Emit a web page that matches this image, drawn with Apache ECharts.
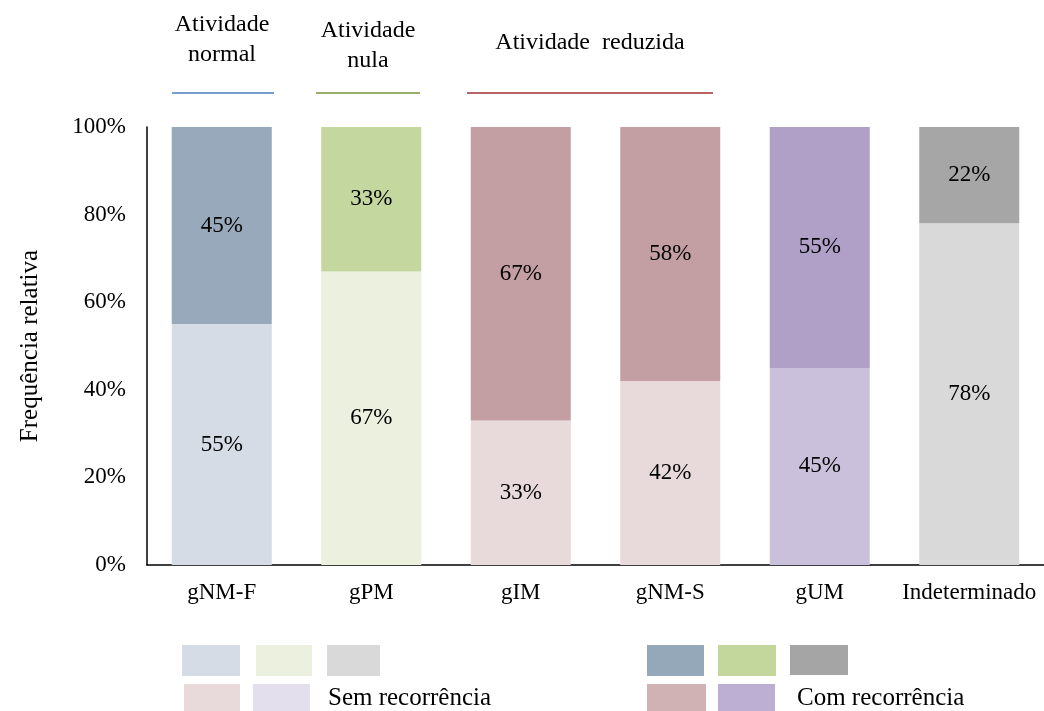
<!DOCTYPE html>
<html>
<head>
<meta charset="utf-8">
<script src="https://cdn.jsdelivr.net/npm/echarts@6/dist/echarts.min.js"></script>
<style>
  html, body { margin: 0; padding: 0; background: #fff; }
  #chart { width: 1044px; height: 711px; }
</style>
</head>
<body>
<div id="chart"></div>
<script>
// dados
var categories = ['gNM-F', 'gPM', 'gIM', 'gNM-S', 'gUM', 'Indeterminado'];
var semRecorrencia = [55, 67, 33, 42, 45, 78];
var comRecorrencia = [45, 33, 67, 58, 55, 22];
var yTicks = ['0%', '20%', '40%', '60%', '80%', '100%'];

// cores por barra
var semColors = ['#D6DCE5', '#EBF0DF', '#E8DADB', '#E8DADB', '#CBC0DB', '#D9D9D9'];
var comColors = ['#97A9BA', '#C4D79E', '#C39EA3', '#C39EA3', '#B0A0C8', '#A6A6A6'];

var font = 'Liberation Serif, Times New Roman, serif';

function items(values, colors) {
  var out = [];
  for (let i = 0; i < values.length; i++) {
    out.push({value: values[i], itemStyle: {color: colors[i]}});
  }
  return out;
}

function txt(str, x, y, size) {
  return {
    type: 'text', x: x, y: y,
    style: {text: str, fill: '#000', font: size + 'px ' + font, align: 'center', verticalAlign: 'middle'}
  };
}

function txtLeft(str, x, y, size) {
  return {
    type: 'text', x: x, y: y,
    style: {text: str, fill: '#000', font: size + 'px ' + font, align: 'left', verticalAlign: 'middle'}
  };
}

function box(x, y, w, h, color) {
  return {type: 'rect', shape: {x: x, y: y, width: w, height: h}, style: {fill: color}};
}

var chart = echarts.init(document.getElementById('chart'));

var labelStyle = {
  show: true,
  position: 'inside',
  formatter: '{c}%',
  color: '#000',
  fontFamily: font,
  fontSize: 23
};

chart.setOption({
  animation: false,
  grid: {left: 147, right: 0, top: 127, bottom: 146},
  xAxis: {
    type: 'category',
    data: categories,
    axisLine: {lineStyle: {color: '#000', width: 1.5}},
    axisTick: {show: false},
    axisLabel: {
      color: '#000', fontFamily: font, fontSize: 23, margin: 16,
      interval: 0, hideOverlap: false
    }
  },
  yAxis: {
    type: 'value',
    min: 0,
    max: 100,
    interval: 20,
    name: 'Frequência relativa',
    nameLocation: 'middle',
    nameGap: 104,
    nameTextStyle: {color: '#000', fontFamily: font, fontSize: 25},
    axisLine: {show: true, lineStyle: {color: '#000', width: 1.5}},
    axisTick: {show: false},
    splitLine: {show: false},
    axisLabel: {
      color: '#000', fontFamily: font, fontSize: 23, margin: 21,
      formatter: function (v) { return yTicks[v / 20]; }
    }
  },
  series: [
    {
      name: 'Sem recorrência',
      type: 'bar',
      stack: 'total',
      barWidth: 100,
      label: labelStyle,
      data: items(semRecorrencia, semColors)
    },
    {
      name: 'Com recorrência',
      type: 'bar',
      stack: 'total',
      barWidth: 100,
      label: labelStyle,
      data: items(comRecorrencia, comColors)
    }
  ],
  graphic: [
    // grupos de atividade
    txt('Atividade', 222, 25, 24),
    txt('normal', 222, 55, 24),
    {type: 'line', shape: {x1: 172, y1: 93, x2: 274, y2: 93}, style: {stroke: '#4A7EBB', lineWidth: 1.5}},
    txt('Atividade', 368, 31, 24),
    txt('nula', 368, 61, 24),
    {type: 'line', shape: {x1: 316, y1: 93, x2: 420, y2: 93}, style: {stroke: '#77933C', lineWidth: 1.5}},
    txt('Atividade  reduzida', 590, 43, 24),
    {type: 'line', shape: {x1: 467, y1: 93, x2: 713, y2: 93}, style: {stroke: '#A0322F', lineWidth: 1.5}},

    // legenda sem recorrência
    box(182, 645, 58, 31, '#D6DCE5'),
    box(256, 645, 56, 31, '#EBF1DE'),
    box(327, 645, 53, 31, '#D9D9D9'),
    box(184, 684, 56, 27, '#E8DADB'),
    box(253, 684, 57, 27, '#E4DFEC'),
    txtLeft('Sem recorrência', 328, 698, 25),

    // legenda com recorrência
    box(647, 645, 57, 31, '#95A8BA'),
    box(718, 645, 58, 31, '#C3D69B'),
    box(790, 645, 58, 30, '#A5A5A5'),
    box(647, 684, 59, 27, '#D0B2B5'),
    box(718, 684, 57, 27, '#BDAED3'),
    txtLeft('Com recorrência', 797, 698, 25)
  ]
});
</script>
</body>
</html>
